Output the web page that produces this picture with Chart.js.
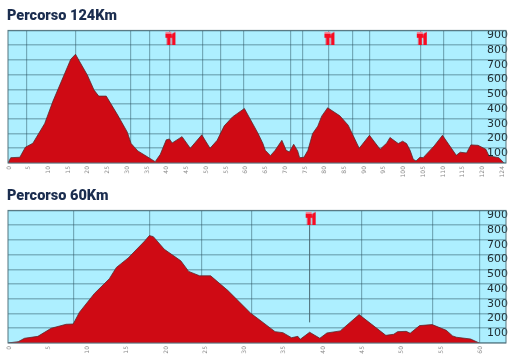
<!DOCTYPE html>
<html>
<head>
<meta charset="utf-8">
<title>Percorsi</title>
<script src="https://cdn.jsdelivr.net/npm/chart.js@4"></script>
<style>
    html, body { margin: 0; padding: 0; background: #fff; }
    canvas { position: absolute; left: 0; }
    #chartLong { top: 0; }
    #chartShort { top: 180px; }
</style>
</head>
<body>
<canvas id="chartLong" width="517" height="181"></canvas>
<canvas id="chartShort" width="517" height="181"></canvas>
<script>
// Percorso 124Km
var longKm = [0, 0.7, 3.0, 4.4, 6.3, 9.3, 11.4, 15.9, 17.1, 20.1, 21.8, 23.0, 24.9, 27.8, 30.2, 31.2, 32.9, 34.6, 37.3, 38.6, 40.1, 40.9, 41.6, 44.1, 46.2, 49.1, 51.2, 53.0, 54.8, 56.9, 59.9, 63.3, 64.6, 65.2, 66.5, 67.7, 69.4, 70.5, 71.3, 72.4, 73.4, 73.9, 75.0, 76.0, 77.2, 78.5, 79.5, 81.0, 84.1, 86.2, 89.0, 91.6, 94.3, 96.0, 96.8, 98.9, 100, 101, 101.9, 102.7, 103.4, 104.4, 105.2, 108.0, 110.1, 113.6, 114.6, 116.2, 117.3, 119.1, 121.1, 121.9, 124.4, 125.7];
var longElev = [0, 36, 39, 107, 134, 268, 420, 704, 738, 597, 495, 454, 454, 325, 211, 132, 82, 54, 9, 59, 157, 163, 136, 179, 100, 191, 100, 154, 252, 313, 370, 204, 132, 86, 50, 86, 154, 86, 75, 127, 82, 36, 39, 86, 200, 250, 318, 375, 320, 257, 100, 188, 93, 136, 173, 132, 148, 132, 86, 25, 14, 39, 36, 116, 188, 52, 73, 68, 123, 120, 93, 48, 36, 0];
var longTowns = [4.7, 17.2, 31, 35.9, 40.9, 49.2, 53.8, 59.6, 71.5, 74.6, 81.2, 87.2, 91.6, 104.6, 110.3, 117.6];
var longStops = [40.9, 81.2, 104.6];
var longTicks = [0, 5, 10, 15, 20, 25, 30, 35, 40, 45, 50, 55, 60, 65, 70, 75, 80, 85, 90, 95, 100, 105, 110, 115, 120, 125];
var longTickLabels = ['0', '5', '10', '15', '20', '25', '30', '35', '40', '45', '50', '55', '60', '65', '70', '75', '80', '85', '90', '95', '100', '105', '110', '115', '120', '124'];

// Percorso 60Km
var shortKm = [0, 1.3, 2.1, 3.8, 5.5, 7.4, 8.3, 9.1, 11.0, 12.9, 13.8, 15.3, 17.4, 18.0, 18.5, 19.9, 22.0, 23.0, 24.4, 25.8, 28.0, 30.9, 31.8, 34.0, 35.0, 36.1, 36.9, 37.2, 38.4, 39.7, 40.6, 42.3, 44.7, 48.1, 49.1, 49.6, 50.7, 51.2, 52.4, 54.0, 55.8, 56.6, 57.1, 58.9, 60.0];
var shortElev = [0, 9, 32, 45, 100, 127, 129, 209, 336, 436, 513, 577, 692, 729, 722, 636, 558, 486, 456, 456, 356, 202, 166, 77, 70, 36, 45, 25, 73, 32, 68, 82, 193, 52, 59, 77, 79, 66, 118, 125, 86, 48, 39, 27, 0];
var shortTowns = [8.3, 18, 24.6, 31, 45, 54, 60];
var shortStops = [38.4];
var shortStopLine = [140, 800];
var shortTicks = [0, 5, 10, 15, 20, 25, 30, 35, 40, 45, 50, 55, 60];
var shortTickLabels = ['0', '5', '10', '15', '20', '25', '30', '35', '40', '45', '50', '55', '60'];

var stopElev = 850;

// Small fork and knife icon, drawn off-centre so it sits right of its line
function makeStopIcon() {
    var c = document.createElement('canvas');
    c.width = 14;
    c.height = 14;
    var g = c.getContext('2d');
    g.fillStyle = '#f80a22';
    // fork
    g.fillRect(3, 3, 6, 4);
    g.fillRect(4.5, 7, 3.5, 7);
    g.fillStyle = '#f28a9c';
    g.fillRect(3, 1, 6, 2);
    // knife
    g.beginPath();
    g.moveTo(13, 1);
    g.lineTo(13, 14);
    g.lineTo(9.5, 14);
    g.lineTo(9.5, 8);
    g.lineTo(9, 6);
    g.lineTo(9.5, 3);
    g.closePath();
    g.fillStyle = '#f80a22';
    g.fill();
    return c;
}

var plotFrame = {
    id: 'plotFrame',
    beforeDraw: function(chart) {
        var a = chart.chartArea;
        chart.ctx.fillStyle = '#adefff';
        chart.ctx.fillRect(a.left, a.top, a.width, a.height);
    },
    afterDraw: function(chart) {
        var a = chart.chartArea;
        var ctx = chart.ctx;
        ctx.strokeStyle = '#55757f';
        ctx.lineWidth = 1;
        ctx.strokeRect(a.left, a.top, a.width, a.height);
    }
};

function drawProfile(id, title, km, elev, towns, stops, ticks, tickLabels, maxKm, stopLine) {
    var datasets = [{
        data: km.map(function(k, i) { return { x: k, y: elev[i] }; }),
        borderColor: '#5c2a2e',
        borderWidth: 0.8,
        backgroundColor: '#cf0a14',
        fill: 'origin',
        pointRadius: 0,
        tension: 0,
        order: 3
    }, {
        data: stops.map(function(k) { return { x: k, y: stopElev }; }),
        showLine: false,
        pointStyle: makeStopIcon(),
        pointRadius: 7,
        order: 1
    }];
    if (stopLine) {
        datasets.push({
            data: stopLine.map(function(v) { return { x: stops[0], y: v }; }),
            borderColor: '#4a6a74',
            borderWidth: 1,
            pointRadius: 0,
            order: 2
        });
    }

    new Chart(document.getElementById(id), {
        type: 'line',
        data: { datasets: datasets },
        plugins: [plotFrame],
        options: {
            responsive: false,
            animation: false,
            layout: { padding: { left: 7, right: 11, top: 0, bottom: 0 } },
            plugins: {
                legend: { display: false },
                tooltip: { enabled: false },
                title: {
                    display: true,
                    text: title,
                    align: 'start',
                    color: '#1b2d4f',
                    font: { family: 'Roboto', size: 14.5, weight: '900' },
                    padding: { top: 8, bottom: 5 }
                }
            },
            scales: {
                x: {
                    type: 'linear',
                    min: 0,
                    max: maxKm,
                    afterBuildTicks: function(axis) {
                        axis.ticks = ticks.map(function(v) { return { value: v }; });
                    },
                    afterFit: function(axis) { axis.height = 18; },
                    grid: { display: false, drawTicks: false },
                    border: { display: false },
                    ticks: {
                        autoSkip: false,
                        minRotation: 90,
                        maxRotation: 90,
                        padding: 3,
                        labelOffset: 1,
                        color: '#8a8a8a',
                        font: { family: 'DejaVu Sans', size: 6 },
                        callback: function(v) { return tickLabels[ticks.indexOf(v)]; }
                    }
                },
                // towns along the route, only grid lines
                towns: {
                    type: 'linear',
                    position: 'bottom',
                    min: 0,
                    max: maxKm,
                    afterBuildTicks: function(axis) {
                        axis.ticks = towns.map(function(v) { return { value: v }; });
                    },
                    afterFit: function(axis) { axis.height = 0; },
                    grid: { color: 'rgba(35,75,88,0.42)', lineWidth: 1.2, drawTicks: false },
                    border: { display: false },
                    ticks: { display: false }
                },
                y: {
                    position: 'right',
                    min: 0,
                    max: 900,
                    afterFit: function(axis) { axis.width = 0; },
                    grid: { color: 'rgba(35,75,88,0.36)', lineWidth: 1.6, drawTicks: false },
                    border: { display: false },
                    ticks: {
                        stepSize: 100,
                        autoSkip: false,
                        mirror: true,
                        padding: 2,
                        labelOffset: 5,
                        z: 2,
                        color: '#1e2b30',
                        font: { family: 'DejaVu Sans', size: 11 },
                        callback: function(v) { return v === 0 ? '' : v; }
                    }
                }
            }
        }
    });
}

drawProfile('chartLong', 'Percorso 124Km', longKm, longElev, longTowns, longStops, longTicks, longTickLabels, 126.2);
drawProfile('chartShort', 'Percorso 60Km', shortKm, shortElev, shortTowns, shortStops, shortTicks, shortTickLabels, 63.4, shortStopLine);
</script>
</body>
</html>
